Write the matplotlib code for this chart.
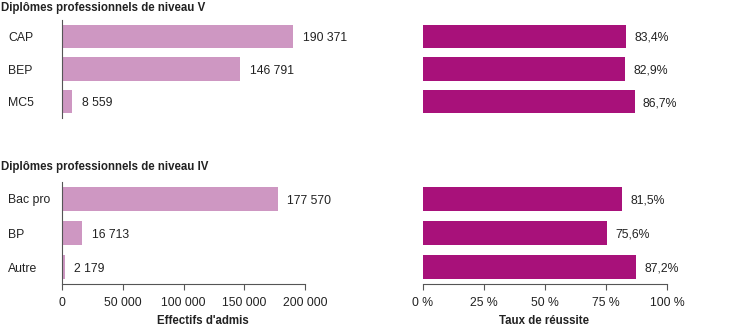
import matplotlib
matplotlib.use("Agg")
import matplotlib.pyplot as plt

plt.rcParams['font.family'] = ['Liberation Sans', 'DejaVu Sans']

title_v = "Diplômes professionnels de niveau V"
title_iv = "Diplômes professionnels de niveau IV"
cats_v = ["CAP", "BEP", "MC5"]
cats_iv = ["Bac pro", "BP", "Autre"]
admis_v = [190371, 146791, 8559]
admis_iv = [177570, 16713, 2179]
taux_v = [83.4, 82.9, 86.7]
taux_iv = [81.5, 75.6, 87.2]
admis_ticks = [0, 50000, 100000, 150000, 200000]
taux_ticks = [0, 25, 50, 75, 100]
xlabel_left = "Effectifs d'admis"
xlabel_right = "Taux de réussite"

W, H = 740, 329
fig = plt.figure(figsize=(W / 100, H / 100), dpi=100)

light = "#CE97C2"
dark = "#A8117A"
txt = "#222222"
spine_c = "#555555"
fs = 8.8
fsb = 8.3

def ax_px(x0, x1, y0, y1):
    return fig.add_axes([x0 / W, 1 - y1 / H, (x1 - x0) / W, (y1 - y0) / H])

def fmt_int(v):
    return f"{v:,}".replace(",", " ")

def fmt_pct(v):
    return f"{v:.1f}%".replace(".", ",")

def setup(ax, xmax, left_spine, bottom):
    ax.set_xlim(0, xmax)
    ax.set_ylim(2.5, -0.5)
    for s in ["top", "right"]:
        ax.spines[s].set_visible(False)
    ax.spines["left"].set_visible(left_spine)
    ax.spines["left"].set_color(spine_c)
    ax.spines["bottom"].set_visible(bottom)
    ax.spines["bottom"].set_color(spine_c)
    ax.tick_params(axis="y", length=0)
    if not bottom:
        ax.set_xticks([])
    ax.patch.set_alpha(0)

panels = [
    (20, 118, cats_v, admis_v, taux_v, False),
    (182, 284, cats_iv, admis_iv, taux_iv, True),
]

for (y0, y1, cats, adm, tx, bottom) in panels:
    axl = ax_px(62, 305, y0, y1)
    setup(axl, 200000, True, bottom)
    pos = list(range(len(cats)))
    axl.barh(pos, adm, height=0.72, color=light)
    for p, v in zip(pos, adm):
        axl.annotate(fmt_int(v), (v, p), xytext=(7, 0), textcoords="offset points",
                     va="center_baseline", ha="left", fontsize=fs, color=txt)
    axl.set_yticks(pos)
    axl.set_yticklabels(cats, fontsize=fs, color=txt, ha="left", va="center_baseline")
    axl.tick_params(axis="y", pad=54 * 0.72)

    axr = ax_px(423, 667, y0, y1)
    setup(axr, 100, False, bottom)
    axr.barh(pos, tx, height=0.72, color=dark)
    axr.set_yticks([])
    for p, v in zip(pos, tx):
        axr.annotate(fmt_pct(v), (v, p), xytext=(6, 0), textcoords="offset points",
                     va="center_baseline", ha="left", fontsize=fs, color=txt)

    if bottom:
        axl.set_xticks(admis_ticks)
        axl.set_xticklabels([fmt_int(t) for t in admis_ticks], fontsize=fs, color=txt)
        axl.tick_params(axis="x", length=4, color=spine_c, pad=5)
        axr.set_xticks(taux_ticks)
        axr.set_xticklabels([f"{t} %" for t in taux_ticks], fontsize=fs, color=txt)
        axr.tick_params(axis="x", length=4, color=spine_c, pad=5)

fig.text(1 / W, 1 - 8 / H, title_v, fontsize=fsb, fontweight="bold", color=txt, va="center", ha="left")
fig.text(1 / W, 1 - 167 / H, title_iv, fontsize=fsb, fontweight="bold", color=txt, va="center", ha="left")
fig.text(203 / W, 1 - 321 / H, xlabel_left, fontsize=fsb, fontweight="bold", color=txt, va="center", ha="center")
fig.text(544 / W, 1 - 321 / H, xlabel_right, fontsize=fsb, fontweight="bold", color=txt, va="center", ha="center")

fig.savefig("out.png", dpi=100)
